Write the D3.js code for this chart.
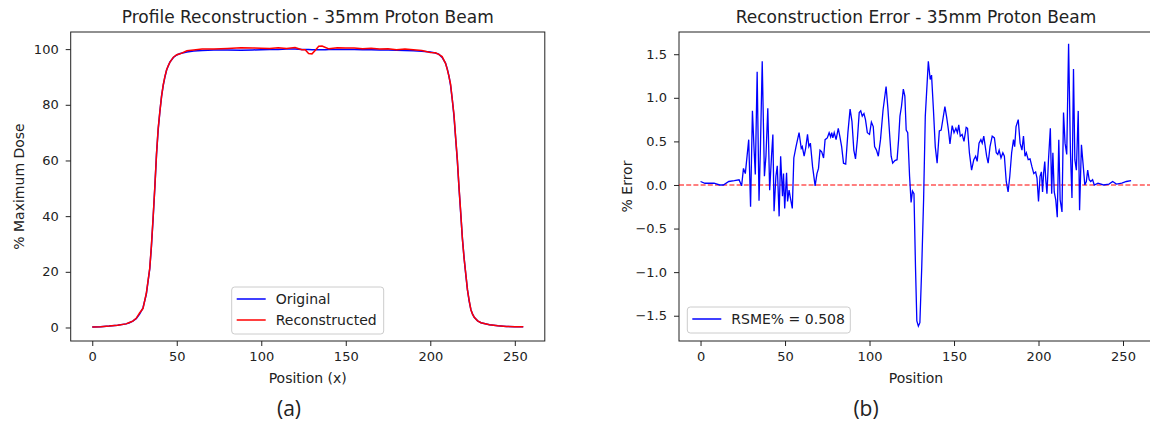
<!DOCTYPE html>
<html>
<head>
<meta charset="utf-8">
<script src="https://cdn.jsdelivr.net/npm/d3@7"></script>
<style>
body { margin: 0; background: #fff; }
svg text { font-family: "DejaVu Sans", sans-serif; fill: #222; }
.axis line { stroke: #222; }
.axis text { font-size: 13px; }
</style>
</head>
<body>
<svg class="chart"></svg>
<script>
var width = 1150;
var height = 428;

// profile
var profX = [0, 5, 10, 15, 20, 22, 24, 26, 28, 30,
  32, 34, 35, 36, 37, 38, 39, 40, 41, 42,
  43, 44, 45, 46, 48, 50, 52, 56, 60, 65,
  72, 80, 88, 95, 100, 105, 110, 115, 120, 124,
  126, 128, 130, 132, 134, 136, 138, 140, 145, 150,
  155, 160, 165, 170, 175, 180, 185, 190, 195, 200,
  203, 205, 207, 209, 210, 211, 212, 213, 214, 215,
  216, 217, 218, 219, 220, 221, 222, 223, 224, 225,
  226, 228, 230, 235, 240, 245, 250, 255];
var profOrig = [0.2, 0.3, 0.5, 0.8, 1.3, 1.7, 2.3, 3.2, 4.8, 7,
  12, 21, 29, 39, 50, 62, 71, 77.5, 83, 87,
  90, 92.5, 94, 95.4, 97, 97.9, 98.4, 99, 99.3, 99.5,
  99.7, 99.7, 99.6, 99.7, 99.8, 99.9, 99.9, 100, 100, 99.9,
  99.9, 99.9, 99.8, 99.8, 99.8, 99.8, 99.8, 99.9, 99.9, 99.9,
  99.9, 99.8, 99.8, 99.7, 99.7, 99.6, 99.5, 99.4, 99.2, 99,
  98.6, 98.2, 97, 95, 93, 90.5, 87, 82, 76, 68,
  60, 50, 41, 32, 25, 19, 13.5, 9.5, 6.5, 4.8,
  3.7, 2.4, 1.7, 1.0, 0.6, 0.4, 0.3, 0.25];
var profRecon = [0.2, 0.3, 0.5, 0.8, 1.3, 1.8, 2.3, 3.3, 5.2, 6.8,
  12.3, 21.2, 29.4, 39.5, 50.2, 62, 71.5, 77.5, 83, 87.2,
  90.2, 92.6, 94.1, 95.3, 97.1, 98, 98.3, 99.4, 99.7, 100,
  100, 100.2, 100.5, 100.4, 100.3, 100.2, 100.5, 100.2, 100.6, 99.8,
  99.8, 98.4, 98.3, 99.6, 101, 101.1, 100.6, 100.1, 100.5, 100.4,
  100.4, 100.1, 100.3, 100, 100.1, 99.8, 100, 99.8, 99.5, 98.8,
  98.7, 98.1, 97.3, 94.9, 92.8, 90.3, 87.4, 81.9, 76.6, 68.3,
  60.4, 50.3, 41.4, 31.9, 24.8, 19.3, 13.5, 9.7, 6.4, 4.8,
  3.7, 2.4, 1.7, 1.0, 0.6, 0.4, 0.3, 0.3];

// error
var errPos = [0, 2.6, 8, 11.3, 13.5, 16.7, 20, 22.8, 24.3, 25.4,
  26.5, 28.5, 29.6, 30.7, 31.7, 32.4, 33.5, 34.6, 35.4, 36.5,
  37.8, 38.7, 39.8, 40.9, 42, 42.8, 43.5, 44.6, 45.4, 46.5,
  47.4, 48.5, 49.1, 49.8, 50.9, 51.5, 52.4, 53, 54.3, 55.2,
  56.5, 58.3, 59.6, 60.2, 61.3, 62.2, 63.3, 64.1, 65, 66.3,
  67.8, 68.9, 69.8, 70.7, 71.7, 72.8, 73.7, 75, 76.1, 77,
  77.6, 78.3, 79.1, 80.2, 81.5, 82.4, 83.5, 84.6, 85.9, 87.2,
  88.5, 89.6, 90.7, 91.7, 92.8, 93.9, 94.8, 95.7, 96.7, 97.6,
  98.7, 100, 101.1, 102.2, 103, 104.1, 105.2, 106.5, 108, 109.8,
  110.9, 112, 112.8, 113.7, 115, 116.3, 117.2, 118, 118.9, 120,
  120.9, 121.7, 122.6, 123.7, 124.6, 125.4, 126.3, 127.2, 128, 128.9,
  129.8, 130.9, 132, 133, 134.8, 135.9, 136.7, 137.8, 138.9, 140,
  141.3, 142.4, 144.6, 145.7, 146.7, 147.6, 148.9, 150, 151.1, 152,
  152.8, 153.7, 154.8, 155.9, 157.2, 158, 159.1, 160.4, 161.7, 162.8,
  163.7, 164.8, 165.9, 166.7, 167.6, 168.5, 169.3, 170.2, 171.3, 172.6,
  173.9, 175, 175.9, 176.7, 177.8, 178.9, 179.8, 180.9, 182, 183,
  184.1, 185.2, 185.9, 186.7, 188, 189.1, 190.2, 191.1, 192, 192.8,
  193.9, 195, 196.1, 197.2, 198.3, 199.1, 200, 200.9, 201.7, 202.4,
  203, 203.7, 204.3, 205, 205.9, 207, 207.8, 208.5, 209.3, 210.2,
  211.1, 212, 212.8, 213.9, 214.8, 215.7, 216.7, 217.8, 218.9, 219.8,
  220.7, 221.5, 222.4, 223.5, 224.3, 225.4, 226.5, 227.4, 228.3, 229.1,
  230, 230.9, 232, 233, 235.2, 238.5, 241.7, 243.9, 246.1, 249.3,
  252, 254.8];
var errVal = [0.04, 0.02, 0.02, 0.0, 0.0, 0.04, 0.05, 0.06, -0.01, 0.19,
  0.13, 0.52, -0.25, 0.85, 0.4, 0.12, 1.30, -0.18, 0.4, 1.42,
  0.10, 0.33, 0.88, -0.06, 0.33, 0.58, -0.30, 0.10, 0.22, -0.36,
  0.33, -0.13, 0.13, -0.27, 0.14, -0.19, -0.06, -0.13, -0.27, 0.31,
  0.44, 0.60, 0.42, 0.44, 0.33, 0.42, 0.58, 0.44, 0.48, 0.21,
  -0.01, 0.13, 0.19, 0.40, 0.38, 0.31, 0.52, 0.54, 0.60, 0.55,
  0.60, 0.54, 0.60, 0.52, 0.65, 0.56, 0.44, 0.25, 0.24, 0.60,
  0.87, 0.73, 0.40, 0.30, 0.52, 0.83, 0.85, 0.79, 0.82, 0.75,
  0.60, 0.58, 0.72, 0.67, 0.44, 0.40, 0.33, 0.52, 0.86, 1.13,
  0.87, 0.55, 0.33, 0.25, 0.28, 0.29, 0.52, 0.79, 0.90, 1.10,
  1.02, 0.63, 0.60, 0.10, -0.20, -0.07, -0.10, -0.94, -1.56, -1.62,
  -1.58, -0.94, -0.17, 0.79, 1.42, 1.21, 1.26, 0.87, 0.44, 0.25,
  0.62, 0.63, 0.90, 0.77, 0.63, 0.47, 0.68, 0.60, 0.65, 0.60,
  0.69, 0.56, 0.58, 0.50, 0.66, 0.65, 0.37, 0.17, 0.29, 0.33,
  0.27, 0.48, 0.52, 0.48, 0.56, 0.44, 0.33, 0.25, 0.44, 0.56,
  0.54, 0.37, 0.35, 0.40, 0.31, 0.37, 0.33, 0.04, -0.08, 0.10,
  0.37, 0.52, 0.44, 0.67, 0.75, 0.48, 0.40, 0.56, 0.33, 0.37,
  0.29, 0.30, 0.21, 0.13, 0.15, 0.08, -0.19, 0.10, 0.15, -0.08,
  0.13, 0.27, 0.06, -0.10, 0.29, 0.65, -0.10, 0.37, -0.08, -0.17,
  -0.37, 0.52, -0.17, -0.31, 0.83, 0.48, 0.35, 1.62, 0.37, -0.15,
  1.33, 0.29, 0.17, 0.85, -0.29, 0.46, 0.21, 0.0, 0.04, 0.17,
  0.06, 0.04, 0.06, 0.0, 0.02, 0.0, 0.01, 0.04, 0.01, 0.02,
  0.04, 0.05];

var posTicks = [0, 50, 100, 150, 200, 250];
var doseTicks = [0, 20, 40, 60, 80, 100];
var errTicks = [-1.5, -1.0, -0.5, 0, 0.5, 1.0, 1.5];
var rsme = 0.508;

var chart = d3.select('.chart')
    .attr('width', width)
    .attr('height', height);

var top_y = 32, bottom_y = 341;

var panel = function(left, right, xlim, ylim, yTicks, yFormat, title, xlabel, ylabel, caption){
    var x = d3.scaleLinear().domain(xlim).range([left, right]);
    var y = d3.scaleLinear().domain(ylim).range([bottom_y, top_y]);
    var g = chart.append('g');

    g.append('g')
      .attr('class', 'axis')
      .attr('transform', 'translate(0,' + bottom_y + ')')
      .call(d3.axisBottom(x).tickValues(posTicks).tickSize(5).tickPadding(6).tickSizeOuter(0))
      .call(function(s){ s.select('.domain').remove(); });

    g.append('g')
      .attr('class', 'axis')
      .attr('transform', 'translate(' + left + ',0)')
      .call(d3.axisLeft(y).tickValues(yTicks).tickFormat(yFormat).tickSize(5).tickPadding(7).tickSizeOuter(0))
      .call(function(s){ s.select('.domain').remove(); });

    g.append('rect')
      .attr('x', left).attr('y', top_y)
      .attr('width', right - left).attr('height', bottom_y - top_y)
      .attr('fill', 'none').attr('stroke', '#222').attr('stroke-width', 1);

    g.append('text')
      .attr('x', (left + right) / 2).attr('y', 23)
      .attr('text-anchor', 'middle').style('font-size', '17px')
      .text(title);
    g.append('text')
      .attr('x', (left + right) / 2).attr('y', 383)
      .attr('text-anchor', 'middle').style('font-size', '14px')
      .text(xlabel);
    g.append('text')
      .attr('transform', 'translate(' + (left - 47) + ',' + ((top_y + bottom_y) / 2) + ') rotate(-90)')
      .attr('text-anchor', 'middle').style('font-size', '14px')
      .text(ylabel);
    g.append('text')
      .attr('x', caption.x).attr('y', 416)
      .attr('text-anchor', 'middle')
      .style('font-family', '"Open Sans", "Liberation Sans", sans-serif')
      .style('font-size', '21px')
      .text(caption.text);

    return {x: x, y: y, g: g};
};

var legend = function(g, x0, y0, w, entries){
    var h = 26 + (entries.length - 1) * 21;
    g.append('rect')
      .attr('x', x0).attr('y', y0).attr('width', w).attr('height', h)
      .attr('rx', 3)
      .attr('fill', 'white').attr('fill-opacity', 0.8)
      .attr('stroke', '#ccc');
    entries.forEach(function(e, i){
      var cy = y0 + 12 + i * 21;
      g.append('line')
        .attr('x1', x0 + 5).attr('x2', x0 + 34)
        .attr('y1', cy).attr('y2', cy)
        .attr('stroke', e.color).attr('stroke-width', 1.5);
      g.append('text')
        .attr('x', x0 + 44).attr('y', cy + 5)
        .style('font-size', '14px')
        .text(e.label);
    });
};

// (a) profile
var a = panel(70.7, 544.8, [-12.75, 267.75], [-4.85, 106.15], doseTicks, d3.format('d'),
  'Profile Reconstruction - 35mm Proton Beam', 'Position (x)', '% Maximum Dose', {x: 289, text: '(a)'});

var profLine = function(vals){
  return d3.line()
    .x(function(d, i){ return a.x(profX[i]); })
    .y(function(d){ return a.y(d); })(vals);
};

a.g.append('path')
  .attr('d', profLine(profOrig))
  .attr('fill', 'none').attr('stroke', '#0000ff').attr('stroke-width', 1.5);
a.g.append('path')
  .attr('d', profLine(profRecon))
  .attr('fill', 'none').attr('stroke', '#ff0000').attr('stroke-width', 1.5);

legend(a.g, 231.7, 287, 152, [
  {label: 'Original', color: '#0000ff'},
  {label: 'Reconstructed', color: '#ff0000'}
]);

// (b) error
var b = panel(679, 1153, [-12.75, 267.75], [-1.79, 1.755], errTicks, d3.format('.1f'),
  'Reconstruction Error - 35mm Proton Beam', 'Position', '% Error', {x: 866, text: '(b)'});

b.g.append('line')
  .attr('x1', 679).attr('x2', 1153)
  .attr('y1', b.y(0)).attr('y2', b.y(0))
  .attr('stroke', '#ff0000').attr('stroke-width', 1.1)
  .attr('stroke-dasharray', '5,2.2');

b.g.append('path')
  .attr('d', d3.line()
    .x(function(d, i){ return b.x(errPos[i]); })
    .y(function(d){ return b.y(d); })(errVal))
  .attr('fill', 'none').attr('stroke', '#0000ff').attr('stroke-width', 1.3);

legend(b.g, 687.3, 307, 163, [
  {label: 'RSME% = ' + rsme, color: '#0000ff'}
]);
</script>
</body>
</html>
